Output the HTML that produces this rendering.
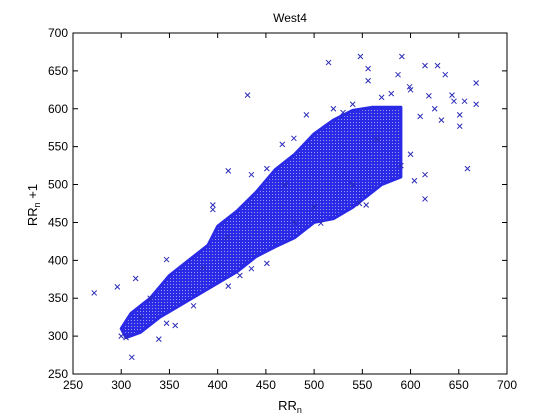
<!DOCTYPE html>
<html><head><meta charset="utf-8"><style>
html,body{margin:0;padding:0;background:#fff;}
svg{display:block;font-family:"Liberation Sans",sans-serif;}
</style></head><body>
<svg id="chart" width="560" height="420" viewBox="0 0 560 420">
<defs>
<pattern id="xpat" width="3" height="3" patternUnits="userSpaceOnUse">
<rect width="3" height="3" fill="#2a2ae6"/>
<rect x="2" y="2" width="1" height="1" fill="#9a9af0"/>
</pattern>
</defs>
<rect x="0" y="0" width="560" height="420" fill="#fff"/>
<text x="290" y="22" font-size="12" text-anchor="middle">West4</text>
<g id="marks"></g>
<g id="axes"></g>
<text x="290" y="410" font-size="13" text-anchor="middle">RR<tspan font-size="9" dy="3">n</tspan></text>
<text transform="translate(37,205) rotate(-90)" font-size="13" text-anchor="middle">RR<tspan font-size="9" dy="3">n</tspan><tspan dy="-3"> +1</tspan></text>
</svg>
<script>
const xTicks = [250,300,350,400,450,500,550,600,650,700];
const yTicks = [250,300,350,400,450,500,550,600,650,700];
const coreUpperX = [300,310,330,350,370,390,400,420,440,460,480,500,520,540,560,590];
const coreUpperY = [310,330,350,380,400,420,445,465,490,520,540,567,585,598,602,602];
const coreLowerX = [590,570,555,540,520,500,480,460,440,420,400,380,360,340,320,305];
const coreLowerY = [510,500,485,470,455,450,430,418,405,385,370,355,340,325,305,298];
const outX = [272,296,315,311,339,347,356,347,375,431,411,515,548,591,615,628,636,668,668,643,656,651,651,632,659,615,604,615,556,556,587,599,492,467,479,395,435,451,395,423,451,435,411,507,554,547,540,619,580,600,570,520,530,610,600,590,565,625,645,300,305,320,330,385,410,470,480,500,540];
const outY = [357,365,376,272,296,401,314,317,340,618,518,661,669,669,657,657,645,634,606,618,610,592,577,585,521,481,505,513,653,637,645,629,592,553,561,473,513,521,467,380,396,389,366,449,473,475,606,617,620,625,615,600,595,590,540,525,560,600,610,300,298,325,350,390,430,500,450,470,500];

const L=73,R=507,T=33,B=374;
const sx=v=>L+(v-250)/450*(R-L);
const sy=v=>B-(v-250)/450*(B-T);
const NS="http://www.w3.org/2000/svg";
const marks=document.getElementById('marks');
const axes=document.getElementById('axes');

let pts=[];
for(let i=0;i<coreUpperX.length;i++)pts.push(sx(coreUpperX[i]).toFixed(1)+','+sy(coreUpperY[i]).toFixed(1));
for(let i=0;i<coreLowerX.length;i++)pts.push(sx(coreLowerX[i]).toFixed(1)+','+sy(coreLowerY[i]).toFixed(1));
const poly=document.createElementNS(NS,'polygon');
poly.setAttribute('points',pts.join(' '));
poly.setAttribute('fill','url(#xpat)');
poly.setAttribute('stroke','#2a2ae6');
poly.setAttribute('stroke-width','3');
poly.setAttribute('stroke-linejoin','round');


marks.appendChild(poly);

for(let i=0;i<outX.length;i++){
  const x=sx(outX[i]),y=sy(outY[i]),s=2.5;
  const p=document.createElementNS(NS,'path');
  p.setAttribute('d',`M${x-s},${y-s}L${x+s},${y+s}M${x-s},${y+s}L${x+s},${y-s}`);
  p.setAttribute('stroke','#2b2bb8');
  p.setAttribute('stroke-width','1');
  
  
  marks.appendChild(p);
}

const box=document.createElementNS(NS,'rect');
box.setAttribute('x',L);box.setAttribute('y',T);box.setAttribute('width',R-L);box.setAttribute('height',B-T);
box.setAttribute('fill','none');box.setAttribute('stroke','#000');box.setAttribute('stroke-width','1');


axes.appendChild(box);

xTicks.forEach(v=>{
  const x=sx(v);
  const t=document.createElementNS(NS,'path');
  t.setAttribute('d',`M${x},${B}V${B-5}M${x},${T}V${T+5}`);
  t.setAttribute('stroke','#000');
  
  
  axes.appendChild(t);
  const l=document.createElementNS(NS,'text');
  l.setAttribute('x',x);l.setAttribute('y',B+15);l.setAttribute('font-size','12');l.setAttribute('text-anchor','middle');
  l.textContent=v;
  
  
  axes.appendChild(l);
});
yTicks.forEach(v=>{
  const y=sy(v);
  const t=document.createElementNS(NS,'path');
  t.setAttribute('d',`M${L},${y}H${L+5}M${R},${y}H${R-5}`);
  t.setAttribute('stroke','#000');
  
  
  axes.appendChild(t);
  const l=document.createElementNS(NS,'text');
  l.setAttribute('x',L-5);l.setAttribute('y',y+4);l.setAttribute('font-size','12');l.setAttribute('text-anchor','end');
  l.textContent=v;
  
  
  axes.appendChild(l);
});
</script>
</body></html>
